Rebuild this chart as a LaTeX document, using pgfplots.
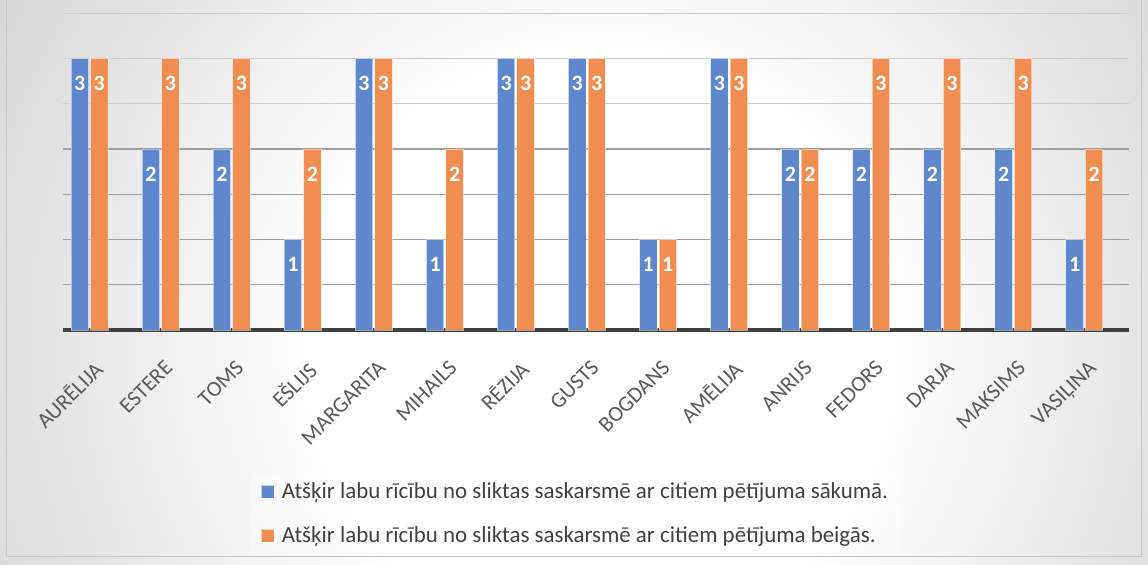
\documentclass[border=0pt]{standalone}
\usepackage{fontspec}
\setmainfont{Carlito}
\usepackage{pgfplots}
\pgfplotsset{compat=1.18}
\definecolor{cblue}{RGB}{94,135,205}
\definecolor{corange}{RGB}{239,142,80}
\definecolor{tickgray}{RGB}{89,89,89}
\definecolor{legtext}{RGB}{64,64,64}
\definecolor{axisdark}{RGB}{64,64,64}
\pgfdeclareradialshading{bgshade}{\pgfpoint{0bp}{0bp}}{color(0bp)=(white);color(12bp)=(white);color(50bp)=(black!36)}

\begin{document}
\begin{tikzpicture}
\useasboundingbox (0,0) rectangle (1148bp,565bp);
\begin{scope}
\clip (0,0) rectangle (1148bp,565bp);
\shade[shading=bgshade] (0bp,-380bp) rectangle (1200bp,820bp);
\end{scope}
\draw[black!22, line width=0.8bp] (6bp,9bp) rectangle (1141bp,566bp);
\begin{axis}[
  at={(63.3bp,235bp)}, anchor=south west,
  scale only axis,
  x=71.06bp, y=90.5bp,
  xmin=-0.369, xmax=14.63, ymin=0, ymax=3.5,
  ybar, bar width=17.5bp,
  separate axis lines,
  axis x line*=bottom, axis y line*=left,
  x axis line style={line width=3.5bp, color=axisdark, -},
  y axis line style={draw=none},
  major tick length=0pt,
  ytick={0.5,1,1.5,2}, yticklabels={},
  extra y ticks={2.5,3,3.5}, extra y tick labels={},
  ymajorgrids,
  major grid style={line width=1.4bp, color=black!38},
  extra y tick style={major grid style={line width=1.4bp, color=black!20}},
  xtick=data,
  xticklabels={AURĒLIJA,ESTERE,TOMS,EŠLIJS,MARGARITA,MIHAILS,RĒZIJA,GUSTS,BOGDANS,AMĒLIJA,ANRIJS,FEDORS,DARJA,MAKSIMS,VASIĻINA},
  xticklabel style={inner sep=0pt, xshift=3bp, yshift=-29bp, rotate=45, anchor=north east, font=\fontsize{22}{26}\selectfont, text=tickgray},
  /pgf/number format/assume math mode=true,
  nodes near coords,
  every node near coord/.append style={anchor=center, yshift=-25bp, font=\fontsize{22}{26}\selectfont\bfseries, text=white},
  legend style={at={(0.176,-0.455)}, anchor=north west, draw=none, fill=white, fill opacity=0.35, text opacity=1, font=\fontsize{23}{27}\selectfont, text=legtext, row sep=23bp, column sep=5bp, inner xsep=10bp, inner ysep=6bp},
  legend cell align=left,
  clip=false,
]
\addplot[fill=cblue, draw=white, draw opacity=0.5, line width=0.8bp, bar shift=-9.75bp,
  legend image code/.code={\draw[fill=cblue, fill opacity=1, draw=white, draw opacity=0.6] (0bp,-7bp) rectangle (13bp,6bp);}]
  coordinates {(0,3) (1,2) (2,2) (3,1) (4,3) (5,1) (6,3) (7,3) (8,1) (9,3) (10,2) (11,2) (12,2) (13,2) (14,1)};
\addplot[fill=corange, draw=white, draw opacity=0.5, line width=0.8bp, bar shift=9.75bp,
  legend image code/.code={\draw[fill=corange, fill opacity=1, draw=white, draw opacity=0.6] (0bp,-7bp) rectangle (13bp,6bp);}]
  coordinates {(0,3) (1,3) (2,3) (3,2) (4,3) (5,2) (6,3) (7,3) (8,1) (9,3) (10,2) (11,3) (12,3) (13,3) (14,2)};
\legend{Atšķir labu rīcību no sliktas saskarsmē ar citiem pētījuma sākumā.,Atšķir labu rīcību no sliktas saskarsmē ar citiem pētījuma beigās.}
\end{axis}
\end{tikzpicture}
\end{document}
